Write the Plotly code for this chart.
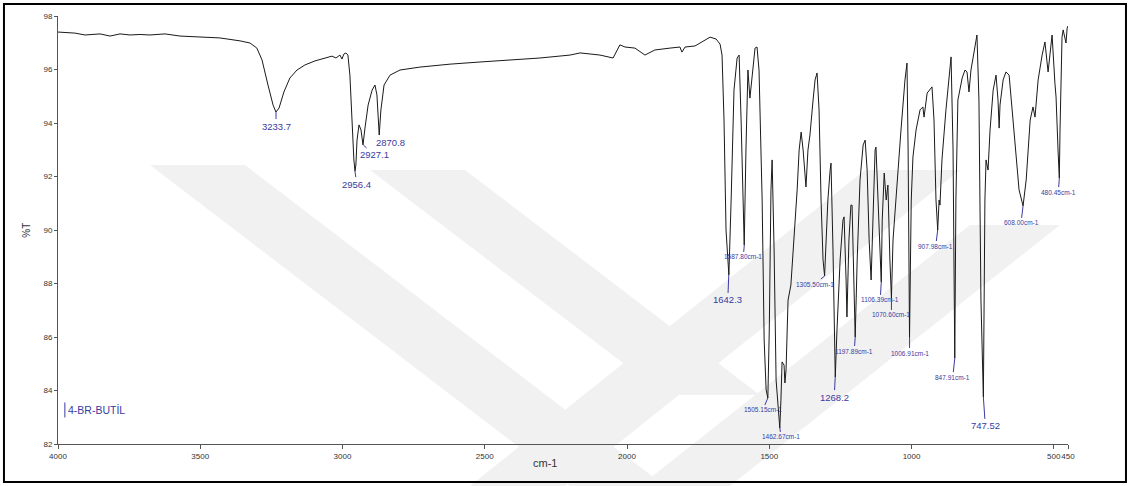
import plotly.graph_objects as go

# ---- spectrum (wavenumber cm-1, %T) ----
wavenumber = [4000, 3940, 3905, 3852, 3817, 3782, 3747, 3712, 3677, 3624, 3571, 3501, 3431, 3360, 3325,
              3301, 3283, 3262, 3244, 3234, 3223, 3206, 3185, 3160, 3132, 3097, 3062, 3037, 3023, 3009,
              3002, 2995, 2988, 2981, 2974, 2967, 2960, 2956, 2953, 2949, 2942, 2935, 2928, 2921, 2910,
              2896, 2886, 2879, 2871, 2865, 2854, 2833, 2798, 2728, 2622, 2517, 2411, 2306, 2200, 2165,
              2130, 2095, 2049, 2035, 2025, 2007, 1972, 1937, 1902, 1849, 1814, 1807, 1796, 1761, 1726,
              1708, 1687, 1673, 1666, 1659, 1652, 1645, 1642, 1634, 1624, 1613, 1606, 1599, 1592, 1588,
              1582, 1575, 1568, 1561, 1550, 1543, 1536, 1525, 1518, 1511, 1505, 1500, 1494, 1490, 1483,
              1476, 1469, 1463, 1459, 1455, 1448, 1445, 1441, 1434, 1424, 1413, 1402, 1395, 1388, 1381,
              1378, 1371, 1364, 1357, 1346, 1339, 1332, 1325, 1318, 1311, 1305.5, 1301, 1294, 1286, 1283,
              1276, 1268, 1262, 1251, 1241, 1237, 1230, 1227, 1220, 1213, 1209, 1202, 1198, 1191, 1181,
              1170, 1163, 1156, 1149, 1142, 1135, 1128, 1125, 1118, 1106.4, 1103, 1096, 1089, 1083, 1076,
              1070.6, 1065, 1051, 1037, 1023, 1016, 1012, 1007, 1001, 995, 984, 970, 960, 956, 945,
              938, 928, 921, 914, 908, 903, 900, 893, 879, 868, 861, 854, 848, 844, 837,
              822, 812, 805, 798, 791, 780, 770, 763, 756, 747.5, 742, 738, 731, 724, 713,
              703, 696, 692, 689, 678, 668, 657, 647, 633, 622, 608, 597, 583, 573, 566,
              555, 541, 531, 520, 506, 496, 492, 485, 480.5, 478, 471, 467, 457, 453, 450]
transmittance = [97.40, 97.36, 97.29, 97.33, 97.25, 97.33, 97.29, 97.31, 97.29, 97.33, 97.25, 97.21, 97.18, 97.07, 96.99,
                 96.80, 96.36, 95.42, 94.67, 94.41, 94.56, 95.16, 95.68, 95.98, 96.17, 96.32, 96.43, 96.50, 96.43, 96.54,
                 96.39, 96.58, 96.62, 96.54, 95.79, 94.11, 92.62, 92.20, 92.43, 93.36, 93.93, 93.74, 93.18, 93.81, 94.67,
                 95.23, 95.42, 95.05, 93.55, 94.49, 95.42, 95.79, 95.98, 96.09, 96.20, 96.28, 96.36, 96.43, 96.54, 96.62,
                 96.58, 96.54, 96.43, 96.73, 96.92, 96.84, 96.80, 96.54, 96.73, 96.80, 96.84, 96.65, 96.84, 96.88, 97.10,
                 97.21, 97.14, 96.95, 96.54, 94.11, 90.00, 88.50, 88.32, 91.12, 95.23, 96.43, 96.54, 94.11, 90.37, 89.44,
                 92.99, 95.98, 94.93, 95.61, 96.80, 96.84, 95.98, 91.12, 85.89, 84.02, 83.72, 86.26, 91.50, 92.62, 89.25,
                 84.39, 83.46, 82.60, 83.64, 85.07, 84.95, 84.28, 84.77, 87.38, 87.94, 89.63, 91.50, 92.99, 93.66, 92.99,
                 92.43, 91.61, 92.99, 93.55, 94.86, 95.61, 95.87, 94.49, 91.12, 88.88, 88.28, 89.63, 91.12, 92.24, 92.50,
                 89.25, 84.50, 86.26, 88.88, 90.37, 90.49, 88.13, 86.75, 89.63, 90.93, 90.93, 87.38, 86.00, 88.88, 91.87,
                 93.18, 93.36, 92.24, 89.63, 88.13, 91.12, 92.99, 93.10, 91.12, 88.06, 90.37, 92.13, 91.12, 91.68, 88.88,
                 87.46, 89.63, 91.87, 93.74, 95.61, 96.24, 92.99, 86.00, 91.12, 92.73, 93.74, 94.49, 94.60, 94.22, 95.12,
                 95.23, 95.35, 94.11, 91.12, 90.00, 91.12, 90.93, 92.62, 94.49, 95.79, 96.47, 92.99, 85.21, 91.12, 94.86,
                 95.68, 95.98, 95.91, 95.16, 95.98, 96.73, 97.29, 94.86, 87.38, 83.76, 91.12, 92.62, 92.24, 93.74, 95.23,
                 95.79, 94.86, 93.81, 94.67, 95.61, 95.91, 95.79, 94.49, 92.62, 91.50, 90.90, 91.87, 94.11, 94.60, 94.22,
                 95.61, 96.54, 97.03, 95.91, 97.29, 95.49, 94.97, 92.99, 91.94, 93.74, 97.21, 97.48, 96.99, 97.55, 97.63]

# ---- labelled peaks ----
peak_wn = [3233.7, 2956.4, 2927.1, 2870.8, 1642.3, 1587.80, 1505.15, 1462.67, 1305.50, 1268.2,
           1197.89, 1106.39, 1070.60, 1006.91, 907.98, 847.91, 747.52, 608.00, 480.45]
peak_T = [94.41, 92.20, 93.18, 93.55, 88.32, 89.44, 83.72, 82.60, 88.28, 84.50,
          86.00, 88.06, 87.46, 86.00, 90.00, 85.21, 83.76, 90.90, 91.94]
peak_text = ["3233.7", "2956.4", "2927.1", "2870.8", "1642.3", "1587.80cm-1", "1505.15cm-1", "1462.67cm-1",
             "1305.50cm-1", "1268.2", "1197.89cm-1", "1106.39cm-1", "1070.60cm-1", "1006.91cm-1",
             "907.98cm-1", "847.91cm-1", "747.52", "608.00cm-1", "480.45cm-1"]
# label offsets in pixels (style)
label_dx = [0, 2, 11, 11, -1, -1, -5, 1, -10, -1, -1, -1, 0, 0, -2, -2, 2, -2, -1]
label_dy = [14, 13, 10, 7, 25, 12, 12, 9, 8, 20, 14, 18, 17, 16, 16, 19, 29, 17, 14]

x_tickvals = [4000, 3500, 3000, 2500, 2000, 1500, 1000, 500, 450]
x_ticktext = ["4000", "3500", "3000", "2500", "2000", "1500", "1000", "500", "450"]
y_tickvals = [82, 84, 86, 88, 90, 92, 94, 96, 98]

sample_name = "4-BR-BUTİL"

LABEL_BLUE = "#3a3aa0"
FONT = "Arial, Liberation Sans, sans-serif"

fig = go.Figure()
fig.add_trace(go.Scatter(x=wavenumber, y=transmittance, mode="lines",
                         line=dict(color="#1a1a1a", width=1), hoverinfo="skip", showlegend=False))

annotations = []
for wn, t, txt, dx, dy in zip(peak_wn, peak_T, peak_text, label_dx, label_dy):
    big = not txt.endswith("cm-1")
    annotations.append(dict(x=wn, y=t, xref="x", yref="y", text=txt, showarrow=True,
                            arrowhead=0, arrowwidth=1, arrowcolor=LABEL_BLUE,
                            ax=dx, ay=dy, standoff=0,
                            font=dict(family=FONT, size=9.5 if big else 6.5, color=LABEL_BLUE)))

annotations.append(dict(x=0.0075, y=0.08, xref="paper", yref="paper", text=sample_name, showarrow=False,
                        xanchor="left", yanchor="middle",
                        font=dict(family=FONT, size=10.5, color=LABEL_BLUE)))
annotations.append(dict(x=0.482, y=-0.044, xref="paper", yref="paper", text="cm-1", showarrow=False,
                        xanchor="center", yanchor="middle", font=dict(family=FONT, size=11, color="#333333")))
annotations.append(dict(x=-0.032, y=0.5, xref="paper", yref="paper", text="%T", showarrow=False,
                        textangle=-90, xanchor="center", yanchor="middle",
                        font=dict(family=FONT, size=10, color="#333333")))


# faint background watermark (decorative), corner points given in page pixels
def _px_path(points):
    def conv(p):
        return f"{(p[0] - 58) / 1010:.4f},{(444 - p[1]) / 428:.4f}"
    return "M " + " L ".join(conv(p) for p in points) + " Z"


watermark_bands = [
    [(150, 165), (245, 165), (665, 486), (570, 486)],
    [(370, 170), (465, 170), (760, 395), (665, 395)],
    [(470, 486), (565, 486), (960, 170), (865, 170)],
    [(640, 486), (730, 486), (1060, 225), (970, 225)],
]

shapes = [dict(type="path", xref="paper", yref="paper", path=_px_path(b),
               fillcolor="#f1f1f1", line=dict(width=0), layer="below") for b in watermark_bands]
shapes += [
    # outer black frame
    dict(type="rect", xref="paper", yref="paper", x0=-0.0535, x1=1.0574, y0=-0.0888, y1=1.028,
         line=dict(color="black", width=2), fillcolor="rgba(0,0,0,0)", layer="above"),
    # cursor bar before sample name
    dict(type="line", xref="paper", yref="paper", x0=0.0068, x1=0.0068, y0=0.062, y1=0.097,
         line=dict(color=LABEL_BLUE, width=1)),
]

fig.update_layout(
    width=1130, height=486,
    margin=dict(l=58, r=62, t=16, b=42),
    paper_bgcolor="white", plot_bgcolor="rgba(0,0,0,0)",
    font=dict(family=FONT, size=8, color="#333333"),
    annotations=annotations, shapes=shapes,
    xaxis=dict(range=[4000, 450], tickvals=x_tickvals, ticktext=x_ticktext, tickangle=0,
               showgrid=False, zeroline=False, showline=True, linecolor="#555555", linewidth=1,
               ticks="outside", ticklen=4, tickcolor="#555555",
               tickfont=dict(family=FONT, size=8, color="#333333")),
    yaxis=dict(range=[82, 98], tickvals=y_tickvals,
               showgrid=False, zeroline=False, showline=True, linecolor="#555555", linewidth=1,
               ticks="outside", ticklen=3, tickcolor="#555555",
               tickfont=dict(family=FONT, size=8, color="#333333")),
)

fig.write_html("out.html", config={"displayModeBar": False},
               post_script="document.body.style.margin='0px';document.body.style.padding='0px';")
